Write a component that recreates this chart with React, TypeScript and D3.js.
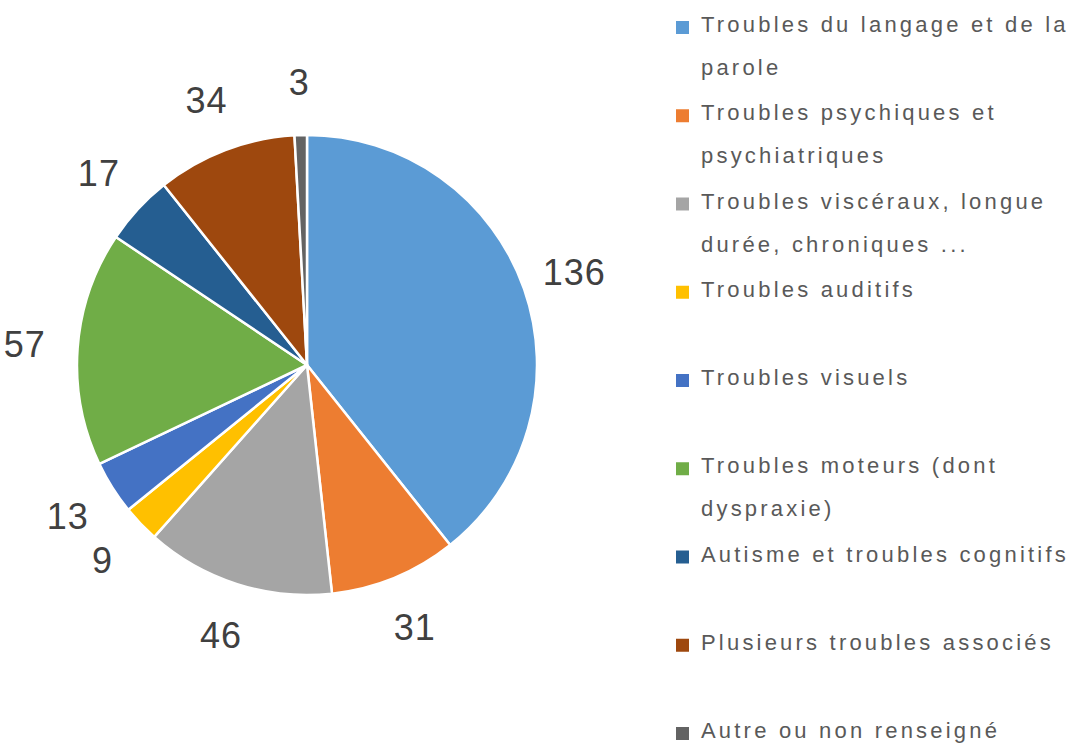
import React, { useEffect, useRef } from "react";
import * as d3 from "d3";

// Data
const categories = [
  "Troubles du langage et de la parole",
  "Troubles psychiques et psychiatriques",
  "Troubles viscéraux, longue durée, chroniques ...",
  "Troubles auditifs",
  "Troubles visuels",
  "Troubles moteurs (dont dyspraxie)",
  "Autisme et troubles cognitifs",
  "Plusieurs troubles associés",
  "Autre ou non renseigné",
];
const values = [136, 31, 46, 9, 13, 57, 17, 34, 3];
const legendLines = [
  ["Troubles du langage et de la", "parole"],
  ["Troubles psychiques et", "psychiatriques"],
  ["Troubles viscéraux, longue", "durée, chroniques ..."],
  ["Troubles auditifs"],
  ["Troubles visuels"],
  ["Troubles moteurs (dont", "dyspraxie)"],
  ["Autisme et troubles cognitifs"],
  ["Plusieurs troubles associés"],
  ["Autre ou non renseigné"],
];
const colors = [
  "#5B9BD5",
  "#ED7D31",
  "#A5A5A5",
  "#FFC000",
  "#4472C4",
  "#70AD47",
  "#255E91",
  "#9E480E",
  "#636363",
];

const App = () => {
  const chartRef = useRef<SVGSVGElement | null>(null);

  useEffect(() => {
    const svg = d3.select(chartRef.current);
    svg.selectAll("*").remove();

    const width = 1077;
    const height = 744;
    const cx = 307;
    const cy = 365;
    const radius = 230;
    const labelRadius = 283;

    const data = categories.map((c, i) => ({ name: c, value: values[i], color: colors[i] }));

    const pie = d3
      .pie<any>()
      .sort(null)
      .value((d) => d.value);
    const arcs = pie(data);

    const arc = d3.arc<any>().innerRadius(0).outerRadius(radius);
    const labelArc = d3.arc<any>().innerRadius(labelRadius).outerRadius(labelRadius);

    const g = svg.append("g").attr("transform", `translate(${cx},${cy})`);

    // slices
    g.selectAll("path")
      .data(arcs)
      .enter()
      .append("path")
      .attr("d", arc)
      .attr("fill", (d) => d.data.color)
      .attr("stroke", "#ffffff")
      .attr("stroke-width", 2.5)
      .attr("stroke-linejoin", "round");

    // value labels
    g.selectAll("text.val")
      .data(arcs)
      .enter()
      .append("text")
      .attr("class", "val")
      .attr("x", (d) => labelArc.centroid(d)[0])
      .attr("y", (d) => labelArc.centroid(d)[1])
      .attr("dy", "0.36em")
      .attr("text-anchor", "middle")
      .style("font-family", "'Liberation Sans', Arial, sans-serif")
      .style("font-size", "36px")
      .style("letter-spacing", "1px")
      .attr("fill", "#404040")
      .text((d) => d.data.value);

    // legend
    const legendY = d3
      .scaleLinear()
      .domain([0, categories.length - 1])
      .range([32, 738]);
    const lineHeight = 43;
    const legend = svg.append("g");

    const items = legend
      .selectAll("g.item")
      .data(data)
      .enter()
      .append("g")
      .attr("class", "item")
      .attr("transform", (d, i) => `translate(676,${legendY(i)})`);

    items
      .append("rect")
      .attr("x", 0)
      .attr("y", -11)
      .attr("width", 13)
      .attr("height", 13)
      .attr("fill", (d) => d.color);

    items.each(function (d, i) {
      const t = d3
        .select(this)
        .append("text")
        .style("font-family", "'Liberation Sans', Arial, sans-serif")
        .style("font-size", "22px")
        .style("letter-spacing", "3.2px")
        .attr("fill", "#595959");
      legendLines[i].forEach((line, j) => {
        t.append("tspan").attr("x", 25).attr("y", j * lineHeight).text(line);
      });
    });

    svg.attr("width", width).attr("height", height);
  }, []);

  return (
    <svg
      ref={chartRef}
      width={1077}
      height={744}
      style={{ position: "absolute", left: 0, top: 0, background: "#fff" }}
    />
  );
};

export default App;
